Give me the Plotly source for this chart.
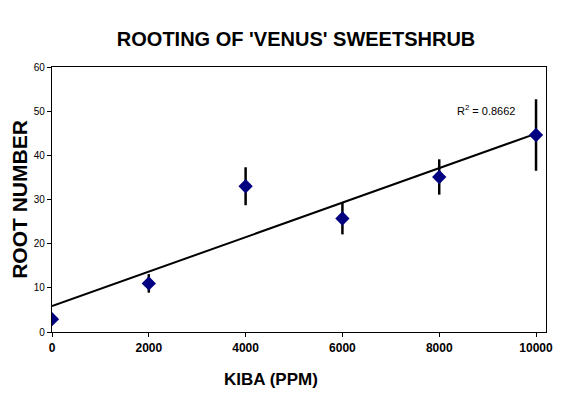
import numpy as np
import plotly.graph_objects as go

kiba_ppm = [0, 2000, 4000, 6000, 8000, 10000]
root_number = [2.9, 11.0, 33.0, 25.7, 35.1, 44.6]
root_err = [0.4, 2.1, 4.3, 3.6, 4.0, 8.1]
x_ticks = [0, 2000, 4000, 6000, 8000, 10000]
x_tick_labels = ["0", "2000", "4000", "6000", "8000", "10000"]
y_ticks = [0, 10, 20, 30, 40, 50, 60]
y_tick_labels = ["0", "10", "20", "30", "40", "50", "60"]

slope, intercept = np.polyfit(kiba_ppm, root_number, 1)
trend_x = [kiba_ppm[0], kiba_ppm[-1]]
trend_y = [intercept + slope * v for v in trend_x]
r2_text = "R<sup>2</sup> = 0.8662"

fig = go.Figure()
fig.add_trace(go.Scatter(
    x=trend_x, y=trend_y, mode="lines",
    line=dict(color="black", width=2), hoverinfo="skip", showlegend=False))
fig.add_trace(go.Scatter(
    x=kiba_ppm, y=root_number, mode="markers",
    marker=dict(symbol="diamond", size=11, color="#000080"),
    error_y=dict(type="data", array=root_err, visible=True,
                 color="black", thickness=2.5, width=0),
    showlegend=False))

fig.add_annotation(x=8970, y=50.3, xref="x", yref="y", text=r2_text,
                   showarrow=False, font=dict(family="Arial, Liberation Sans", size=11, color="black"))

# x-axis title (offset left of the plot centre, as in the reference)
fig.add_annotation(x=0.443, y=-0.18, xref="paper", yref="paper", yanchor="middle",
                   text="<b>KIBA (PPM)</b>", showarrow=False,
                   font=dict(family="Arial, Liberation Sans", size=17, color="black"))

fig.update_layout(
    width=576, height=394,
    margin=dict(l=52, r=30, t=67, b=62),
    paper_bgcolor="white", plot_bgcolor="white",
    title=dict(text="<b>ROOTING OF 'VENUS' SWEETSHRUB</b>", x=0.514, xanchor="center",
               y=0.9, yanchor="middle",
               font=dict(family="Arial, Liberation Sans", size=20, color="black")),
    xaxis=dict(range=[0, 10206], tickvals=x_ticks, ticktext=x_tick_labels, ticks="outside", ticklen=4,
               tickcolor="black", showline=True, linecolor="black", linewidth=1.2, mirror=True,
               showgrid=False, zeroline=False, automargin=False,
               tickfont=dict(family="Arial, Liberation Sans", size=12, color="black", weight="bold")),
    yaxis=dict(range=[0, 60], tickvals=y_ticks, ticktext=y_tick_labels, ticks="outside", ticklen=4,
               tickcolor="black", showline=True, linecolor="black", linewidth=1.2, mirror=True,
               showgrid=False, zeroline=False, automargin=False,
               tickfont=dict(family="Arial, Liberation Sans", size=10, color="black"),
               title=dict(text="<b>ROOT NUMBER</b>", standoff=0,
                          font=dict(family="Arial, Liberation Sans", size=21, color="black"))),
)

fig.write_html("out.html", config={"displayModeBar": False},
               post_script="document.body.style.margin='0px';")
